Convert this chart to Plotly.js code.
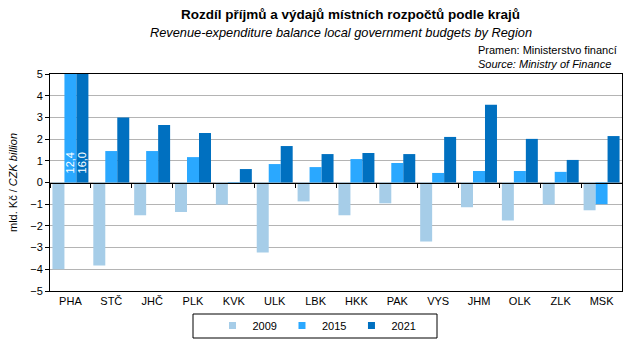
<!DOCTYPE html>
<html><head><meta charset="utf-8">
<script src="https://cdn.plot.ly/plotly-3.0.1.min.js"></script>
<style>html,body{margin:0;padding:0;background:#fff}#chart{width:634px;height:346px}</style>
</head><body><div id="chart"></div>
<script>
const regions = ["PHA","STČ","JHČ","PLK","KVK","ULK","LBK","HKK","PAK","VYS","JHM","OLK","ZLK","MSK"];
const years = ["2009","2015","2021"];
const v2009 = [-4.0,-3.83,-1.51,-1.36,-1.02,-3.23,-0.87,-1.51,-0.96,-2.72,-1.14,-1.75,-1.02,-1.28];
const v2015 = [12.4,1.45,1.45,1.17,-0.06,0.85,0.71,1.08,0.90,0.44,0.53,0.53,0.49,-1.0];
const v2021 = [16.0,2.99,2.65,2.28,0.62,1.68,1.31,1.36,1.31,2.10,3.58,2.01,1.04,2.14];
const colors = ["#a6cde8","#2aa8ff","#0070c0"];
const series = [v2009, v2015, v2021];
const FONT = "Liberation Sans, Arial, sans-serif";

const traces = series.map((vals,i)=>({
  type:"bar", x:regions, y:vals, name:years[i], marker:{color:colors[i]},
  showlegend:false, hoverinfo:"x+y"
}));
// legend-only entries with small square symbols
years.forEach((yr,i)=>traces.push({
  type:"scatter", mode:"markers", x:[null], y:[null], name:yr,
  marker:{symbol:"square", size:7, color:colors[i]}, showlegend:true
}));
// zero-line axis with boundary ticks
traces.push({type:"bar", x:regions, y:regions.map(()=>null), xaxis:"x2", showlegend:false, hoverinfo:"skip"});

const ymax = 5;
const annotations = [
  {xref:"paper", yref:"paper", x:0.526, y:1, xanchor:"center", yanchor:"bottom", yshift:50,
   text:"<b>Rozdíl příjmů a výdajů místních rozpočtů podle krajů</b>", showarrow:false,
   font:{family:FONT, size:13.5, color:"#000"}},
  {xref:"paper", yref:"paper", x:0.509, y:1, xanchor:"center", yanchor:"bottom", yshift:32,
   text:"<i>Revenue-expenditure balance local government budgets by Region</i>", showarrow:false,
   font:{family:FONT, size:12.8, color:"#000"}},
  {xref:"paper", yref:"paper", x:1, y:1, xanchor:"right", yanchor:"bottom", yshift:2, xshift:-3, align:"left",
   text:"Pramen: Ministerstvo financí<br><i>Source: Ministry of Finance</i>", showarrow:false,
   font:{family:FONT, size:11, color:"#000"}}
];
// labels for clipped bars
[1,2].forEach((si,k)=>{
  series[si].forEach((v,j)=>{
    if (v > ymax) annotations.push({
      x:regions[j], y:0, xref:"x", yref:"y", xshift: k*12, yshift:7, yanchor:"bottom", xanchor:"center",
      textangle:-90, showarrow:false, text:v.toFixed(1).replace(".",","),
      font:{family:FONT, size:11, color:"#fff"}
    });
  });
});

const layout = {
  width:634, height:346,
  margin:{l:50, r:12, t:74, b:55, autoexpand:false},
  paper_bgcolor:"#fff", plot_bgcolor:"#fff",
  font:{family:FONT, size:11, color:"#000"},
  barmode:"group", bargap:0.12, bargroupgap:0,
  xaxis:{type:"category", showline:true, mirror:true, linecolor:"#000", linewidth:1,
    ticks:"", showgrid:false, zeroline:false, tickfont:{size:11}, fixedrange:true},
  xaxis2:{type:"category", overlaying:"x", matches:"x", anchor:"free", position:0.5,
    showline:true, linecolor:"#000", linewidth:1, ticks:"outside", tickson:"boundaries",
    ticklen:4, tickcolor:"#000", showticklabels:false, showgrid:false, zeroline:false},
  yaxis:{range:[-5,5], dtick:1, showline:true, mirror:true, linecolor:"#000", linewidth:1,
    ticks:"outside", ticklen:4, tickcolor:"#000", showgrid:true, gridcolor:"#b4b4b4", gridwidth:1,
    zeroline:false, tickfont:{size:11},
    title:{text:"mld. Kč / <i>CZK billion</i>", font:{size:11}, standoff:10}},
  legend:{orientation:"h", x:0.5, xanchor:"center", xref:"container", yref:"container",
    y:0.101, yanchor:"top", borderwidth:0, bgcolor:"rgba(0,0,0,0)", font:{size:11}},
  shapes:[{type:"rect", xref:"paper", yref:"paper", x0:0.25, x1:0.6766, y0:-0.106, y1:-0.2166,
    line:{color:"#000", width:1}, fillcolor:"rgba(0,0,0,0)"}],
  annotations:annotations
};
Plotly.newPlot("chart", traces, layout, {displayModeBar:false, staticPlot:true});
</script></body></html>
